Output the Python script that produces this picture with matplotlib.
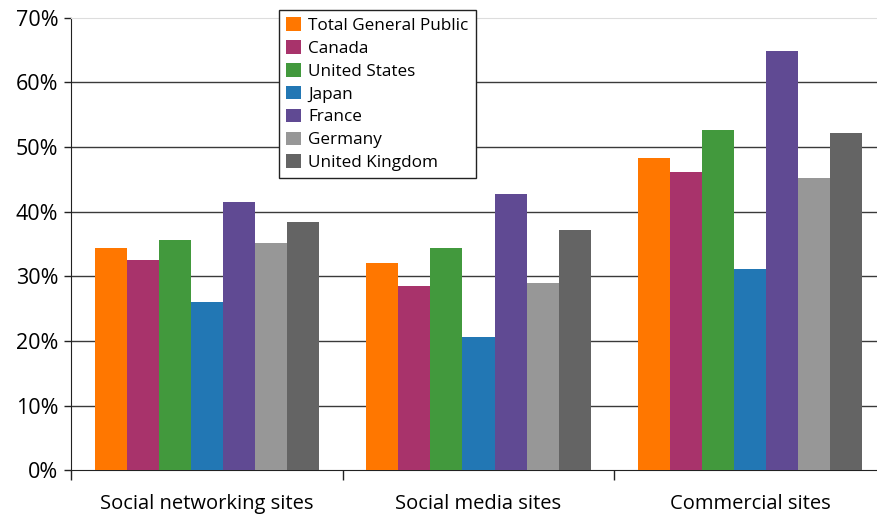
import matplotlib
matplotlib.use("Agg")
import matplotlib.pyplot as plt
import numpy as np

plt.rcParams['font.family'] = ['Open Sans', 'DejaVu Sans']

categories = ["Social networking sites", "Social media sites", "Commercial sites"]
series = ["Total General Public", "Canada", "United States", "Japan",
          "France", "Germany", "United Kingdom"]
colors = ["#FF7700", "#A8336B", "#42993D", "#2277B4",
          "#604A93", "#979797", "#646464"]

total_general = [34.4, 32.1, 48.3]
canada        = [32.5, 28.5, 46.1]
united_states = [35.6, 34.4, 52.6]
japan         = [26.0, 20.6, 31.1]
france        = [41.5, 42.8, 64.8]
germany       = [35.1, 29.0, 45.2]
united_kingdom = [38.4, 37.2, 52.2]
values = [total_general, canada, united_states, japan,
          france, germany, united_kingdom]

fig = plt.figure(figsize=(8.78, 5.2), dpi=100)
ax = fig.add_axes([71 / 878, 49.7 / 520, 815 / 878, 452.6 / 520])

x = np.arange(len(categories))
bw = 0.118
for i, (name, vals) in enumerate(zip(series, values)):
    ax.bar(x + (i - 3) * bw, vals, width=bw, color=colors[i],
           label=name, zorder=3, linewidth=0)

# gridlines
for g in range(10, 70, 10):
    ax.axhline(g, color="#3a3a3a", linewidth=1.0, zorder=1)

ax.set_ylim(0, 70)
ax.set_xlim(-0.5, 2.5)
ax.set_yticks(range(0, 80, 10))
ax.set_yticklabels(["%d%%" % v for v in range(0, 80, 10)], fontsize=15.5)

# category labels centered, ticks at category boundaries
ax.set_xticks(x)
ax.set_xticklabels(categories, fontsize=14.5)
ax.tick_params(axis='x', length=0, pad=17)
ax.set_xticks([-0.5, 0.5, 1.5, 2.5], minor=True)
ax.tick_params(axis='x', which='minor', length=7, width=1, color="#222222")
ax.tick_params(axis='y', length=5, width=1, color="#222222", pad=4)

ax.spines['right'].set_visible(False)
ax.spines['top'].set_color("#dddddd")
ax.spines['left'].set_color("#222222")
ax.spines['bottom'].set_color("#222222")

leg = ax.legend(loc='upper left', bbox_to_anchor=(0.255, 1.017),
                borderaxespad=0, fontsize=12.3, fancybox=False,
                framealpha=1, edgecolor="#222222",
                handlelength=0.85, handleheight=0.85,
                handletextpad=0.45, labelspacing=0.36,
                borderpad=0.42)
leg.get_frame().set_linewidth(1.0)
leg.set_zorder(5)

fig.savefig("out.png", dpi=100)
